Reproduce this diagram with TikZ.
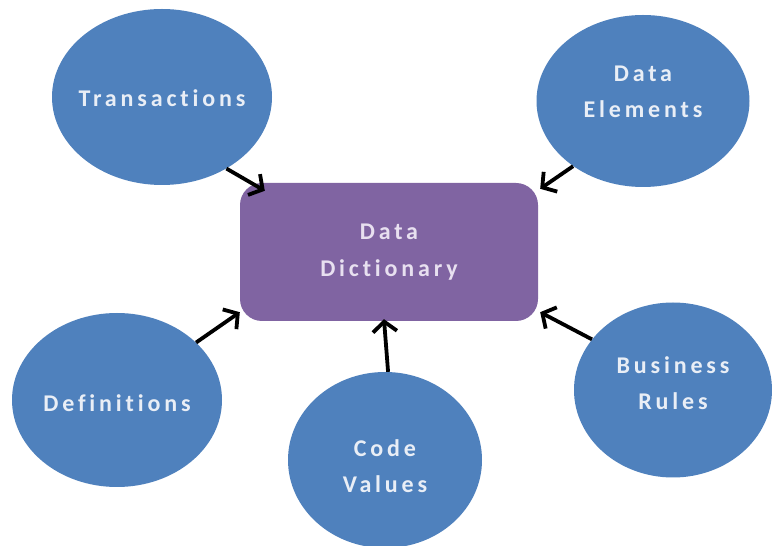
\documentclass[tikz,border=0pt]{standalone}
\usepackage{fontspec}
\setmainfont{Carlito}[LetterSpace=16,Ligatures=NoCommon]
\usetikzlibrary{shapes.geometric,arrows.meta}
\definecolor{ellblue}{HTML}{4F81BD}
\definecolor{boxpurple}{HTML}{8064A2}
\definecolor{elltext}{HTML}{E9EEF6}
\definecolor{boxtext}{HTML}{E8E0F0}
\tikzset{
  bubble/.style={ellipse, fill=ellblue, draw=none, inner sep=0pt},
  bubbletext/.style={align=center, inner sep=0pt, text=elltext,
    font=\fontsize{24}{36}\selectfont\bfseries},
  centerbox/.style={rectangle, rounded corners=22pt, fill=boxpurple, draw=none,
    minimum width=298pt, minimum height=138pt, align=center, text=boxtext,
    font=\fontsize{24}{37}\selectfont\bfseries},
  arr/.style={line width=3.8pt, -{Straight Barb[length=10pt,width=24pt,line width=3.8pt]}, black}
}
\begin{document}
\begin{tikzpicture}[x=1pt,y=1pt]
\useasboundingbox[fill=white] (0,0) rectangle (772,546);
% y_tikz = 546 - y_px
\node[centerbox] (dd) at (389,294) {Data\\Dictionary};
\node[bubble, minimum width=220pt, minimum height=176pt] (tr) at (162,449) {};
\node[bubble, minimum width=213pt, minimum height=172pt] (de) at (643,445) {};
\node[bubble, minimum width=210pt, minimum height=174pt] (df) at (117,146) {};
\node[bubble, minimum width=194pt, minimum height=176pt] (cv) at (385,86) {};
\node[bubble, minimum width=198pt, minimum height=175pt] (br) at (673,156) {};
\node[bubbletext] (trt) at ([yshift=-1]tr.center) {Transactions};
\node[bubbletext] (det) at ([yshift=9]de.center) {Data\\Elements};
\node[bubbletext] (dft) at ([yshift=-3]df.center) {Definitions};
\node[bubbletext] (cvt) at ([yshift=-6]cv.center) {Code\\Values};
\node[bubbletext] (brt) at ([yshift=7]br.center) {Business\\Rules};
\draw[arr] (tr.-48) -- ([shift={(25,-8)}]dd.north west);
\draw[arr] (de.-137) -- ([shift={(2,-6)}]dd.north east);
\draw[arr] (df.36) -- ([shift={(0,9)}]dd.south west);
\draw[arr] (cv.88) -- ([shift={(-5,2)}]dd.south);
\draw[arr] (br.148) -- ([shift={(2,9)}]dd.south east);
\end{tikzpicture}
\end{document}
